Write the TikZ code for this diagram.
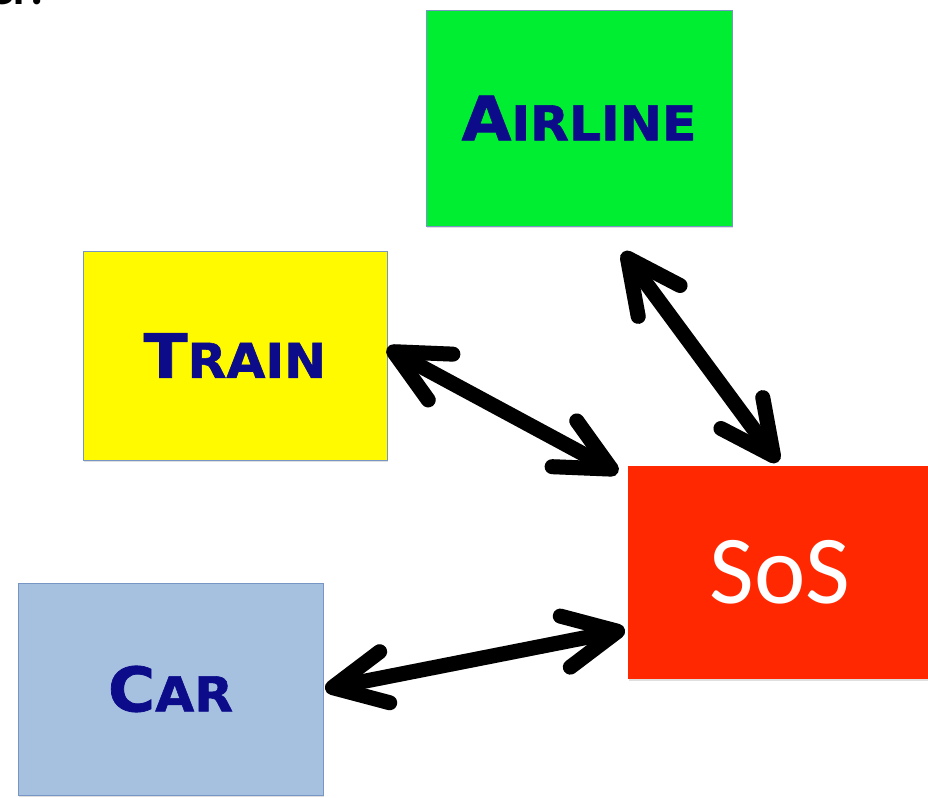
\documentclass[tikz,border=0pt]{standalone}
\usepackage{fontspec}
\setmainfont{DejaVu Sans}
\newfontfamily\labelfont{DejaVu Sans}[BoldFeatures={FakeBold=1.2, FakeStretch=1.05}]
\newfontfamily\sosfont{Carlito}
\usetikzlibrary{arrows.meta,shadows}

\definecolor{navytext}{RGB}{12,12,138}
\definecolor{airgreen}{RGB}{0,238,50}
\definecolor{trainyellow}{RGB}{255,250,0}
\definecolor{sosred}{RGB}{255,40,0}
\definecolor{carblue}{RGB}{166,192,223}
\definecolor{boxedge}{RGB}{120,150,196}

% small-caps look: larger first letter, smaller remaining letters
\newcommand{\initialletter}[1]{{\fontsize{46}{46}\selectfont #1}}
\newcommand{\restletters}[1]{{\fontsize{36}{36}\selectfont #1}}

\tikzset{
  sysbox/.style={rectangle, draw=boxedge, line width=0.7pt, outer sep=0pt,
    inner sep=0pt, font=\labelfont\bfseries, text=navytext,
    drop shadow={opacity=0.25, shadow xshift=1pt, shadow yshift=-1.5pt}},
  link/.style={line width=11.25pt, line cap=round, line join=round,
    {Straight Barb[length=40pt, width=39pt, line cap=round, line join=round]}-{Straight Barb[length=40pt, width=39pt, line cap=round, line join=round]}},
  linkshade/.style={link, draw=black!30, opacity=0.45}
}

\begin{document}
\begin{tikzpicture}[x=0.75pt, y=-0.75pt]
\useasboundingbox (0,0) rectangle (928,798);
\clip (0,0) rectangle (928,798);
\fill[white] (0,0) rectangle (928,798);

% heading fragment at the top edge
\node[anchor=base east, font=\sosfont\bfseries\fontsize{36}{36}\selectfont, inner sep=0pt]
  (heading) at (44,5) {er:};

% systems
\node[sysbox, fill=airgreen, minimum width=229.5pt, minimum height=162pt]
  (airline) at (579,118) {\initialletter{A}\restletters{IRLINE}};
\node[sysbox, fill=trainyellow, minimum width=228pt, minimum height=156.75pt]
  (train) at (235,355.5) {\initialletter{T}\restletters{RAIN}};
\node[sysbox, fill=carblue, minimum width=228.75pt, minimum height=159pt]
  (car) at (170.5,689) {\initialletter{C}\restletters{AR}};
\node[sysbox, fill=sosred, draw=none, minimum width=228pt, minimum height=159.75pt,
  font=\sosfont\fontsize{73}{73}\selectfont, text=white]
  (sos) at (780,572.5) {SoS};

% two-way links to the system of systems (soft shadow first)
\begin{scope}[xshift=2pt, yshift=-2.5pt]
  \draw[linkshade] ([yshift=5.5pt]train.east) -- ([xshift=-7.5pt,yshift=-5pt]sos.north west);
  \draw[linkshade] ([xshift=33pt,yshift=-19.5pt]airline.south) -- ([xshift=-1.5pt,yshift=3pt]sos.north);
  \draw[linkshade] ([xshift=1.5pt]car.east) -- ([xshift=-2.25pt,yshift=-43pt]sos.west);
\end{scope}
\draw[link] ([yshift=5.5pt]train.east) -- ([xshift=-7.5pt,yshift=-5pt]sos.north west);
\draw[link] ([xshift=33pt,yshift=-19.5pt]airline.south) -- ([xshift=-1.5pt,yshift=3pt]sos.north);
\draw[link] ([xshift=1.5pt]car.east) -- ([xshift=-2.25pt,yshift=-43pt]sos.west);
\end{tikzpicture}
\end{document}
